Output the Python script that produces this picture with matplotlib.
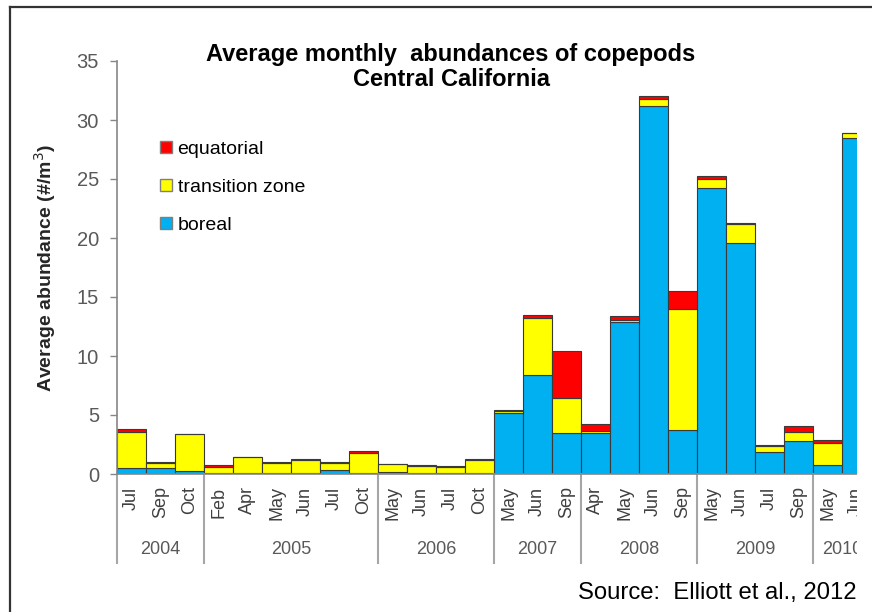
import matplotlib
matplotlib.use('Agg')
import matplotlib.pyplot as plt
from matplotlib.patches import Patch, Rectangle
from matplotlib.lines import Line2D
import numpy as np

plt.rcParams['font.family'] = ['Liberation Sans', 'DejaVu Sans']

# months sampled, grouped by year
months = ['Jul', 'Sep', 'Oct',
          'Feb', 'Apr', 'May', 'Jun', 'Jul', 'Oct',
          'May', 'Jun', 'Jul', 'Oct',
          'May', 'Jun', 'Sep',
          'Apr', 'May', 'Jun', 'Sep',
          'May', 'Jun', 'Jul', 'Sep',
          'May', 'Jun']
years = ['2004', '2005', '2006', '2007', '2008', '2009', '2010']
months_per_year = [3, 6, 4, 3, 4, 4, 2]

# average abundance (#/m3) by group
boreal = [0.5, 0.5, 0.25, 0.05, 0.1, 0.1, 0.1, 0.35, 0.05,
          0.15, 0.1, 0.1, 0.05, 5.2, 8.4, 3.45,
          3.5, 12.85, 31.2, 3.75, 24.2, 19.6, 1.9, 2.8, 0.75, 28.5]
transition = [3.1, 0.45, 3.1, 0.55, 1.35, 0.85, 1.12, 0.6, 1.7,
              0.7, 0.6, 0.5, 1.15, 0.15, 4.8, 2.95,
              0.15, 0.2, 0.6, 10.2, 0.8, 1.6, 0.45, 0.75, 1.9, 0.4]
equatorial = [0.2, 0.1, 0.05, 0.2, 0.03, 0.03, 0.03, 0.05, 0.2,
              0.03, 0.05, 0.08, 0.03, 0.05, 0.25, 4.05,
              0.6, 0.35, 0.2, 1.6, 0.25, 0.05, 0.1, 0.55, 0.2, 0.03]

W, H = 872, 612
fig = plt.figure(figsize=(W / 100, H / 100), dpi=100)
ax = fig.add_axes([117 / W, (H - 474) / H, 754 / W, 413 / H])

x = np.arange(len(months))
edge = dict(edgecolor='#3a3a3a', linewidth=0.8, width=1.0)
ax.bar(x, boreal, color='#00B0F0', **edge)
ax.bar(x, transition, bottom=boreal, color='#FFFF00', **edge)
ax.bar(x, equatorial, bottom=np.add(boreal, transition), color='#FF0000', **edge)

ax.set_xlim(-0.5, len(months) - 0.5)
ax.set_ylim(0, 35)
ax.set_yticks(range(0, 36, 5))
ax.tick_params(axis='y', direction='out', length=5, width=1, color='#868686',
               labelsize=14.5, labelcolor='#595959', pad=8)
ax.set_xticks(x)
ax.set_xticklabels(months, rotation=90, fontsize=13, color='#404040')
ax.tick_params(axis='x', length=0, pad=9)
for s in ['top', 'right']:
    ax.spines[s].set_visible(False)
for s in ['left', 'bottom']:
    ax.spines[s].set_color('#868686')
    ax.spines[s].set_linewidth(1.2)

# year groups below the month labels
trans = ax.get_xaxis_transform()
start = 0
bounds = [-0.5]
for yr, n in zip(years, months_per_year):
    ax.text(start + (n - 1) / 2, -0.184, yr, transform=trans, ha='center',
            va='center', fontsize=13, color='#595959', clip_on=False)
    start += n
    bounds.append(start - 0.5)
for b in bounds:
    ax.plot([b, b], [0, -0.2155], transform=trans, color='#a6a6a6',
            linewidth=1.5, clip_on=False)

handles = [Patch(facecolor='#FF0000', edgecolor='#7f7f7f', label='equatorial'),
           Patch(facecolor='#FFFF00', edgecolor='#7f7f7f', label='transition zone'),
           Patch(facecolor='#00B0F0', edgecolor='#7f7f7f', label='boreal')]
ax.legend(handles=handles, loc='upper left', bbox_to_anchor=(160 / W, 1 - 141 / H),
          bbox_transform=fig.transFigure, frameon=False, fontsize=14,
          handlelength=0.6, handleheight=0.6, handletextpad=0.3,
          labelspacing=1.08, borderpad=0, borderaxespad=0)

fig.text(451 / W, 1 - 60.5 / H, 'Average monthly  abundances of copepods',
         ha='center', va='baseline', fontsize=17, fontweight='bold')
fig.text(451 / W, 1 - 86.5 / H, 'Central California',
         ha='center', va='baseline', fontsize=17, fontweight='bold')
fig.text(45 / W, 1 - 268 / H, 'Average abundance (#/m$^3$)', rotation=90,
         ha='center', va='center', fontsize=14, fontweight='bold', color='#262626')

# the original picture is cropped on the right side
fig.patches.append(Rectangle((857 / W, 1 - 572 / H), 20 / W, 552 / H,
                             transform=fig.transFigure, facecolor='white',
                             edgecolor='none', zorder=10))

fig.text(857 / W, 1 - 593 / H, 'Source:  Elliott et al., 2012',
         ha='right', va='center', fontsize=17.2)

# frame lines left and top
fig.lines.append(Line2D([10 / W, 10 / W], [0, 1 - 7 / H], transform=fig.transFigure,
                        color='#333333', linewidth=1.6))
fig.lines.append(Line2D([10 / W, 1], [1 - 7 / H, 1 - 7 / H], transform=fig.transFigure,
                        color='#333333', linewidth=1.6))

fig.savefig('out.png', dpi=100)
